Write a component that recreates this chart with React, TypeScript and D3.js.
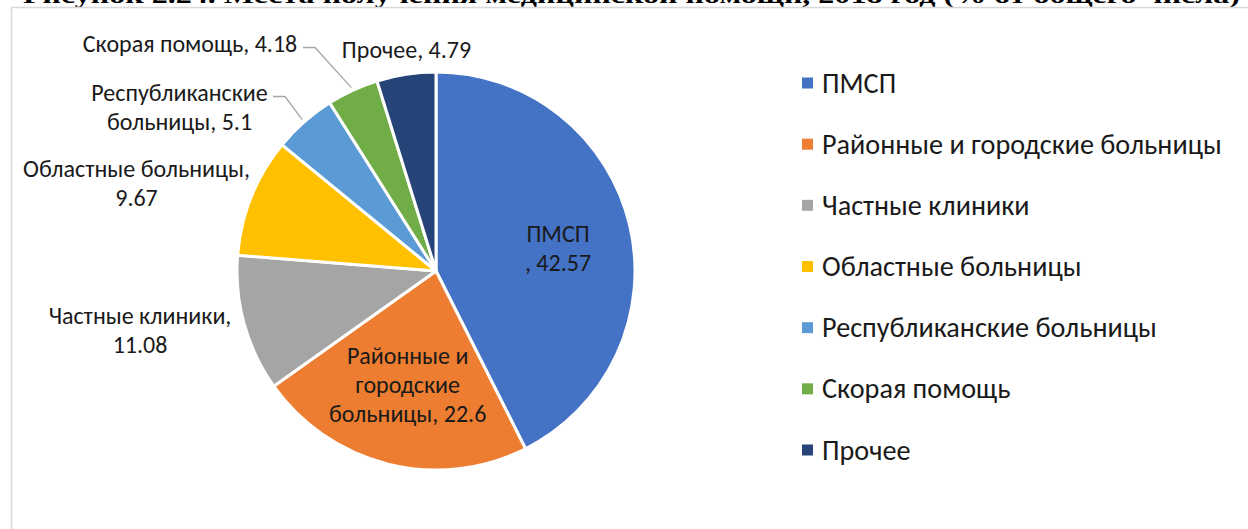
import React from "react";
import * as d3 from "d3";

const categories = [
  "ПМСП",
  "Районные и городские больницы",
  "Частные клиники",
  "Областные больницы",
  "Республиканские больницы",
  "Скорая помощь",
  "Прочее",
];
const values = [42.57, 22.6, 11.08, 9.67, 5.1, 4.18, 4.79];
const colors = ["#4472C4", "#ED7D31", "#A5A5A5", "#FFC000", "#5B9BD5", "#70AD47", "#264478"];
// how each data label is broken into lines
const labelNameLines = [
  ["ПМСП"],
  ["Районные и", "городские", "больницы"],
  ["Частные клиники"],
  ["Областные больницы"],
  ["Республиканские", "больницы"],
  ["Скорая помощь"],
  ["Прочее"],
];
const labelValueMode = ["commaNext", "same", "valueNext", "valueNext", "same", "same", "same"];
const titleText = "Рисунок 2.24. Места получения медицинской помощи, 2018 год (% от общего числа)";

const W = 1248;
const H = 529;
const cx = 436;
const cy = 271;
const R = 199;
const FONT = "Calibri, Carlito, Lato, sans-serif";
const LABEL_FS = 24;
const LEGEND_FS = 28.2;
const LINE_H = 29;

// label layout (text centre x, first line centre y); inner labels use polar placement
const labelLayout: Record<
  number,
  { x?: number; y?: number; inside?: number; dx?: number; dy?: number; leaderStart?: number }
> = {
  0: { inside: 0.62, dx: 2, dy: 6 },
  1: { inside: 0.59 },
  2: { x: 140, y: 316 },
  3: { x: 136.5, y: 169 },
  4: { x: 179.5, y: 93, leaderStart: 273 },
  5: { x: 190, y: 44, leaderStart: 303 },
  6: { x: 406.5, y: 50 },
};

function labelLines(i: number): string[] {
  const name = labelNameLines[i].slice();
  const v = String(values[i]);
  const mode = labelValueMode[i];
  if (mode === "commaNext") return [...name, ", " + v];
  if (mode === "valueNext") {
    name[name.length - 1] = name[name.length - 1] + ",";
    return [...name, v];
  }
  name[name.length - 1] = name[name.length - 1] + ", " + v;
  return name;
}

export default function App() {
  const pie = d3
    .pie<number>()
    .sort(null)
    .value((d) => d)
    .startAngle(0)
    .endAngle(2 * Math.PI);
  const arcs = pie(values);
  const arcGen = d3.arc<d3.PieArcDatum<number>>().innerRadius(0).outerRadius(R);

  const legendY = d3.scalePoint<number>().domain(d3.range(categories.length)).range([83, 450]);

  return (
    <svg
      width={W}
      height={H}
      style={{ position: "absolute", left: 0, top: 0, background: "#fff" }}
    >
      <text
        x={23}
        y={3}
        fontFamily="'Liberation Serif', 'Times New Roman', serif"
        fontWeight="bold"
        fontSize={23}
        textLength={1217}
        lengthAdjust="spacingAndGlyphs"
        fill="#000"
      >
        {titleText}
      </text>
      <rect x={11.5} y={7.5} width={W + 20} height={H + 20} fill="none" stroke="#d9d9d9" strokeWidth={1.5} />

      <g transform={`translate(${cx},${cy})`}>
        {arcs.map((a, i) => (
          <path key={i} d={arcGen(a) || ""} fill={colors[i]} stroke="#fff" strokeWidth={3} strokeLinejoin="round" />
        ))}
      </g>

      {arcs.map((a, i) => {
        const lay = labelLayout[i];
        const lines = labelLines(i);
        let x: number;
        let y0: number;
        const mid = (a.startAngle + a.endAngle) / 2;
        if (lay.inside) {
          const rr = R * lay.inside;
          x = cx + rr * Math.sin(mid) + (lay.dx || 0);
          const yc = cy - rr * Math.cos(mid) + (lay.dy || 0);
          y0 = yc - ((lines.length - 1) * LINE_H) / 2;
        } else {
          x = lay.x as number;
          y0 = lay.y as number;
        }
        let leader = null;
        if (lay.leaderStart) {
          const endR = R + 3;
          const ex = cx + endR * Math.sin(mid);
          const ey = cy - endR * Math.cos(mid);
          const sx = lay.leaderStart;
          const sy = y0 + 3.5;
          const kx = sx + 12;
          leader = (
            <polyline
              points={`${sx},${sy} ${kx},${sy} ${ex},${ey}`}
              fill="none"
              stroke="#a6a6a6"
              strokeWidth={1.3}
            />
          );
        }
        return (
          <g key={"l" + i}>
            {leader}
            {lines.map((ln, j) => (
              <text
                key={j}
                x={x}
                y={y0 + j * LINE_H + 8}
                textAnchor="middle"
                fontFamily={FONT}
                fontSize={LABEL_FS}
                fill="#1a1a1a"
              >
                {ln}
              </text>
            ))}
          </g>
        );
      })}

      {categories.map((c, i) => {
        const y = legendY(i) as number;
        return (
          <g key={"lg" + i}>
            <rect x={802} y={y - 5.5} width={11} height={11} fill={colors[i]} />
            <text x={822} y={y + 9.5} fontFamily={FONT} fontSize={LEGEND_FS} fill="#1a1a1a">
              {c}
            </text>
          </g>
        );
      })}
    </svg>
  );
}
